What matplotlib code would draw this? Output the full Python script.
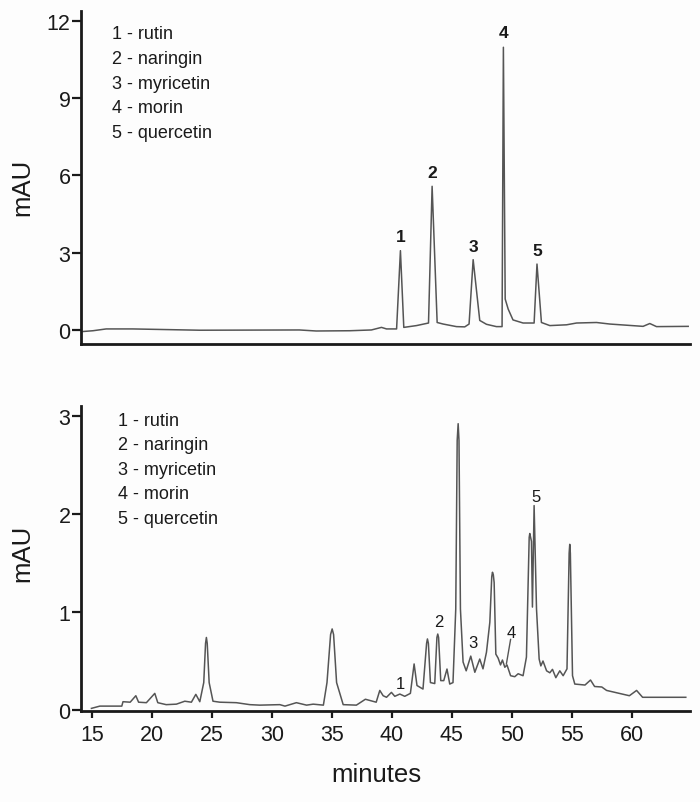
import matplotlib
matplotlib.use("Agg")
from matplotlib import pyplot as plt

plt.rcParams['font.family'] = ['Liberation Sans', 'DejaVu Sans']

# standards chromatogram (top)
std_time = [14.27, 15.1, 16.2, 18.4, 24.0, 32.3, 33.7, 36.5, 38.3, 39.14, 39.56, 40.4,
            40.72, 41.0, 42.06, 43.06, 43.36, 43.78, 44.28, 45.39, 46.08, 46.44,
            46.78, 47.33, 47.89, 48.72, 49.19, 49.3, 49.45, 49.7, 50.1, 50.94, 51.86,
            52.1, 52.47, 53.17, 54.56, 55.4, 57.06, 58.17, 60.94, 61.5, 62.06, 64.7]
std_mau = [-0.06, -0.03, 0.04, 0.04, -0.01, 0.0, -0.04, -0.03, 0.0, 0.1, 0.04, 0.04,
           3.08, 0.1, 0.17, 0.27, 5.58, 0.29, 0.23, 0.13, 0.12, 0.23,
           2.73, 0.37, 0.22, 0.13, 0.13, 10.98, 1.2, 0.81, 0.39, 0.27, 0.27,
           2.56, 0.29, 0.17, 0.2, 0.27, 0.29, 0.23, 0.14, 0.25, 0.13, 0.14]

# sample chromatogram (bottom)
smp_time = [14.97, 15.67, 17.5, 17.6, 18.2, 18.67, 18.9, 19.55, 20.25, 20.5, 21.2,
            22.05, 22.75, 23.3, 23.67, 24.0, 24.33, 24.48, 24.55, 24.62, 24.78, 25.1,
            25.67, 27.05, 28.17, 29.0, 30.67, 31.1, 32.05, 32.9, 33.45, 34.3, 34.6,
            34.9, 35.03, 35.15, 35.4, 35.95, 37.05, 37.8, 38.7, 39.0, 39.28, 39.56,
            39.97, 40.25, 40.67, 41.08, 41.55, 41.86, 42.1, 42.6, 42.9, 42.97, 43.05,
            43.22, 43.58, 43.76, 43.83, 43.9, 44.08, 44.33, 44.6, 44.83, 45.1, 45.33,
            45.45, 45.53, 45.6, 45.72, 45.94, 46.2, 46.58, 46.92, 47.33, 47.6, 47.89,
            48.17, 48.33, 48.39, 48.46, 48.53, 48.67, 48.86, 49.06, 49.22, 49.42,
            49.6, 49.9, 50.25, 50.53, 50.94, 51.22, 51.45, 51.5, 51.64, 51.72, 51.86,
            52.06, 52.28, 52.42, 52.6, 52.9, 53.17, 53.39, 53.67, 54.0, 54.28, 54.6,
            54.78, 54.83, 54.88, 55.06, 55.25, 56.1, 56.56, 56.9, 57.5, 57.9, 59.8,
            60.4, 60.9, 64.5]
smp_mau = [0.017, 0.04, 0.04, 0.085, 0.08, 0.146, 0.08, 0.075, 0.17, 0.075, 0.055,
           0.06, 0.09, 0.08, 0.16, 0.085, 0.28, 0.68, 0.74, 0.68, 0.28, 0.09,
           0.08, 0.075, 0.055, 0.05, 0.055, 0.04, 0.075, 0.05, 0.06, 0.05, 0.28,
           0.77, 0.827, 0.77, 0.28, 0.055, 0.05, 0.11, 0.08, 0.2, 0.146, 0.13,
           0.18, 0.14, 0.163, 0.14, 0.17, 0.47, 0.25, 0.214, 0.68, 0.725, 0.68,
           0.28, 0.27, 0.74, 0.775, 0.74, 0.3, 0.3, 0.418, 0.265, 0.28, 1.03,
           2.75, 2.92, 2.75, 1.03, 0.49, 0.4, 0.55, 0.385, 0.52, 0.42, 0.59,
           0.895, 1.36, 1.405, 1.38, 1.3, 0.57, 0.53, 0.46, 0.51, 0.436,
           0.46, 0.35, 0.34, 0.37, 0.35, 0.54, 1.76, 1.8, 1.72, 1.05, 2.085,
           1.03, 0.52, 0.45, 0.5, 0.4, 0.38, 0.415, 0.33, 0.4, 0.35, 0.42,
           1.6, 1.69, 1.6, 0.35, 0.265, 0.255, 0.306, 0.24, 0.235, 0.2, 0.146,
           0.2, 0.13, 0.13]

legend_lines = ['1 - rutin', '2 - naringin', '3 - myricetin', '4 - morin', '5 - quercetin']

# peak labels: (number, time, mAU of label centre)
std_labels = ['1', '2', '3', '4', '5']
std_label_t = [40.72, 43.36, 46.78, 49.3, 52.1]
std_label_y = [3.62, 6.12, 3.25, 11.55, 3.08]
smp_labels = ['1', '2', '3', '4', '5']
smp_label_t = [40.7, 43.9, 46.8, 49.97, 52.0]
smp_label_y = [0.27, 0.90, 0.69, 0.79, 2.18]

trace_col = '#555555'
axis_col = '#1a1a1a'

fig = plt.figure(figsize=(7, 8.03), dpi=100)
fig.patch.set_facecolor('#fdfdfd')

ax1 = fig.add_axes([0.1157, 0.5704, 0.87, 0.4147])
ax2 = fig.add_axes([0.1157, 0.1133, 0.87, 0.3798])

for ax in (ax1, ax2):
    ax.set_facecolor('#fdfdfd')
    ax.spines['top'].set_visible(False)
    ax.spines['right'].set_visible(False)
    for s in ('left', 'bottom'):
        ax.spines[s].set_linewidth(2.0)
        ax.spines[s].set_color(axis_col)
    ax.set_xlim(14.1, 64.85)
    ax.tick_params(axis='y', length=6.5, width=1.6, pad=1, labelsize=15.5, colors=axis_col)

# top panel
ax1.plot(std_time, std_mau, color=trace_col, lw=1.1)
ax1.set_ylim(-0.544, 12.39)
ax1.set_yticks([0, 3, 6, 9, 12])
ax1.set_xticks([])
for lab, t, y in zip(std_labels, std_label_t, std_label_y):
    ax1.text(t, y, lab, ha='center', va='center', fontsize=12.5, fontweight='bold', color='#1a1a1a')
for i, line in enumerate(legend_lines):
    ax1.text(0.051, 0.931 - i * 0.0739, line, transform=ax1.transAxes,
             ha='left', va='center', fontsize=13, color='#1a1a1a')

# bottom panel
ax2.plot(smp_time, smp_mau, color=trace_col, lw=1.1)
ax2.set_ylim(-0.01, 3.10)
ax2.set_yticks([0, 1, 2, 3])
ax2.set_xticks([15, 20, 25, 30, 35, 40, 45, 50, 55, 60])
ax2.tick_params(axis='x', length=5, width=1.6, pad=4, labelsize=15.5, colors=axis_col)
for lab, t, y in zip(smp_labels, smp_label_t, smp_label_y):
    ax2.text(t, y, lab, ha='center', va='center', fontsize=12, color='#1a1a1a')
ax2.plot([49.9, 49.55], [0.72, 0.47], color=trace_col, lw=1.0)
for i, line in enumerate(legend_lines):
    ax2.text(0.0608, 0.954 - i * 0.0807, line, transform=ax2.transAxes,
             ha='left', va='center', fontsize=13, color='#1a1a1a')

fig.text(22 / 700, 1 - 187 / 803, 'mAU', rotation=90, ha='center', va='center', fontsize=18.5, color='#1a1a1a')
fig.text(22 / 700, 1 - 553 / 803, 'mAU', rotation=90, ha='center', va='center', fontsize=18.5, color='#1a1a1a')
fig.text(376 / 700, 1 - 775 / 803, 'minutes', ha='center', va='center', fontsize=18.5, color='#1a1a1a')

plt.savefig('out.png', dpi=100, facecolor=fig.get_facecolor())
